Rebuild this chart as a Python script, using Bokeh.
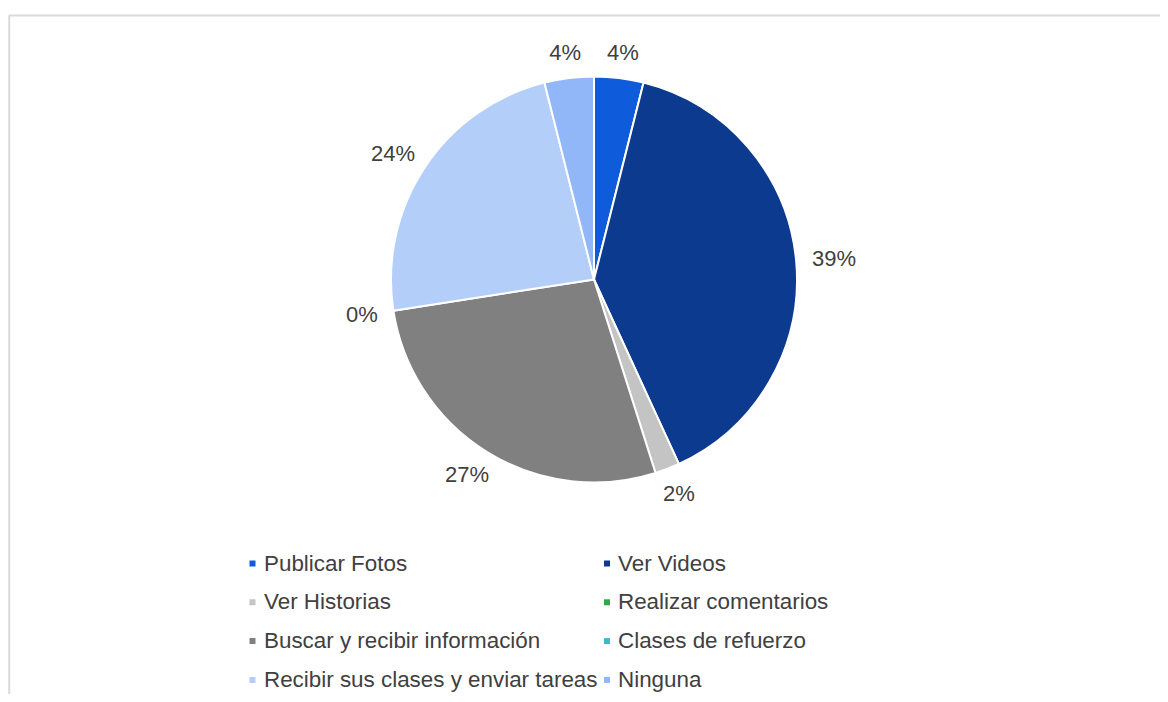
import numpy as np
from bokeh.plotting import figure
from bokeh.models import ColumnDataSource, Range1d
from bokeh.core.properties import value
from bokeh.embed import file_html
from bokeh.resources import INLINE

# ---- data ----
categories = ["Publicar Fotos", "Ver Videos", "Ver Historias", "Realizar comentarios",
              "Buscar y recibir información", "Clases de refuerzo",
              "Recibir sus clases y enviar tareas", "Ninguna"]
counts = [2, 20, 1, 0, 14, 0, 12, 2]
colors = ["#0E5CDB", "#0C3A8F", "#C4C4C4", "#2EA84A",
          "#808080", "#3CBAC8", "#B3CEF9", "#91B7F8"]
label_shown = [True, True, True, False, True, True, True, True]

# ---- layout (pixels, relative to the picture) ----
W, H = 1160, 694
def px(page_x):
    return page_x
def py(page_y):
    return H - page_y

FONT = "Liberation Sans"
cx, cy = px(593.5), py(279)
R = 203
R_LABEL = 219
LABEL_FS = 22
LEG_FS = 22.4

p = figure(width=W, height=H, output_backend="svg", toolbar_location=None,
           x_axis_location=None, y_axis_location=None,
           x_range=Range1d(0, W), y_range=Range1d(0, H),
           min_border=0, outline_line_color=None)
p.grid.visible = False
p.background_fill_color = "white"
p.border_fill_color = "white"

# border of the chart area (top and left visible)
p.line(x=[px(8.75), px(8.75), W + 10], y=[-10, py(15), py(15)],
       line_color="#D9D9D9", line_width=2)

# ---- pie ----
vals = np.array(counts, dtype=float)
frac = vals / vals.sum()
cum_end = np.cumsum(frac)
cum_start = cum_end - frac
start_angle = np.pi / 2 - 2 * np.pi * cum_end
end_angle = np.pi / 2 - 2 * np.pi * cum_start

mask = vals > 0
wsrc = ColumnDataSource(dict(
    start=start_angle[mask], end=end_angle[mask],
    color=[c for c, m in zip(colors, mask) if m]))
p.wedge(x=cx, y=cy, radius=R, start_angle="start", end_angle="end",
        direction="anticlock", fill_color="color", line_color="white",
        line_width=2, source=wsrc)

# ---- data labels ----
mid = (cum_start + cum_end) / 2
theta = 2 * np.pi * mid  # clockwise from top
dx, dy = np.sin(theta), np.cos(theta)
texts = [f"{round(100 * f):.0f}%" for f in frac]
widths = np.array([LABEL_FS * (0.556 * (len(t) - 1) + 0.889) for t in texts])
half_h = 10
lx = cx + dx * R_LABEL + dx * widths / 2
ly = cy + dy * R_LABEL + dy * half_h
lsrc = ColumnDataSource(dict(
    x=[x for x, s in zip(lx, label_shown) if s],
    y=[y for y, s in zip(ly, label_shown) if s],
    t=[t for t, s in zip(texts, label_shown) if s]))
p.text(x="x", y="y", text="t", source=lsrc, text_align="center",
       text_baseline="middle", text_font=value(FONT),
       text_font_size=f"{LABEL_FS}px", text_color="#404040")

# ---- legend (2 columns, row-major) ----
col_marker = [252, 606.5]
col_text = [263.5, 617.5]
row0, row_step = 562.5, 38.8
mx, my, tx, ty = [], [], [], []
for i, name in enumerate(categories):
    r, c = divmod(i, 2)
    yy = row0 + r * row_step
    mx.append(px(col_marker[c])); my.append(py(yy + 0.5))
    tx.append(px(col_text[c])); ty.append(py(yy))
p.scatter(x=mx, y=my, marker="square", size=6, fill_color=colors,
          line_color=None)
p.text(x=tx, y=ty, text=categories, text_align="left", text_baseline="middle",
       text_font=value(FONT), text_font_size=f"{LEG_FS}px", text_color="#404040")

open("out.html", "w").write(file_html(p, INLINE))
